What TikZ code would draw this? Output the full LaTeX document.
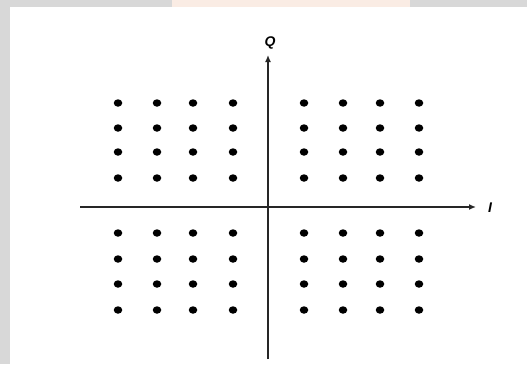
\documentclass[tikz,border=0pt]{standalone}
\usepackage{fontspec}
\setmainfont{Liberation Sans}
\usetikzlibrary{arrows.meta,shapes.geometric}
\definecolor{bggray}{RGB}{216,216,216}
\definecolor{wmorange}{RGB}{250,236,228}
\tikzset{
  axis/.style={line width=1.8pt, draw=black!85, -{Latex[length=7pt,width=6pt]}},
  dot/.style={fill=black, draw=none, ellipse, minimum width=8.5pt, minimum height=7.5pt, inner sep=0pt},
  lab/.style={font=\fontsize{14}{16}\selectfont\bfseries\itshape, inner sep=0pt}
}
\begin{document}
\begin{tikzpicture}[x=1pt,y=-1pt]
\useasboundingbox (0,0) rectangle (527,364);
\fill[bggray] (0,0) rectangle (527,364);
\fill[wmorange] (172,0) rectangle (410,7);
\fill[white] (10,7) rectangle (527,364);
% axes
\coordinate (xl) at (80,207);
\coordinate (xr) at (476,207);
\coordinate (yb) at (268,359);
\coordinate (yt) at (268,55);
\draw[axis] (xl) -- (xr);
\draw[axis] (yb) -- (yt);
\node[lab] (Q) at (270,43) {Q};
\node[lab] (I) at (490,208) {I};
% dots
\foreach \x [count=\i] in {118,157,193,233,304,343,380,419}{
  \foreach \y [count=\j] in {103,128,152,178,233,259,284,310}{
    \node[dot] (d\i-\j) at (\x,\y) {};
  }
}
\end{tikzpicture}
\end{document}
